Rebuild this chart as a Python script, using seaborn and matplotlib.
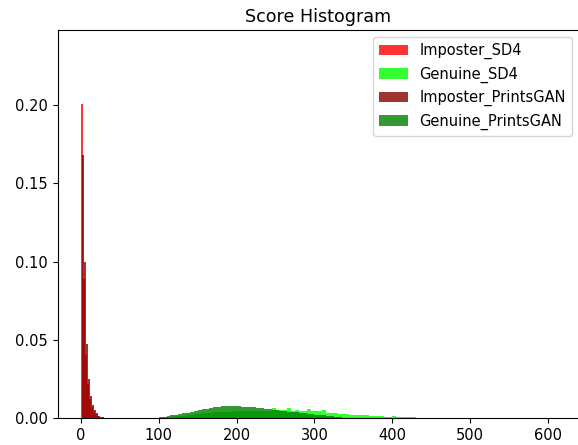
import numpy as np
import pandas as pd
import matplotlib
matplotlib.use("Agg")
import matplotlib.pyplot as plt
import seaborn as sns

# ---- data (density per bin) ----
imp_sd4_start, imp_sd4_width = 0.0, 2.5
imp_sd4 = [0.201, 0.089, 0.040, 0.022, 0.012, 0.007, 0.004, 0.0023, 0.0012, 0.0006, 0.0003]

imp_gan_start, imp_gan_width = 1.5, 2.5
imp_gan = [0.168, 0.100, 0.047, 0.025, 0.014, 0.008, 0.005, 0.003, 0.0015, 0.0008, 0.0004]

gen_sd4_start, gen_sd4_width = 60.0, 5.0
gen_sd4 = [0.0002, 0.0003, 0.0003, 0.0002, 0.0001, 0.0001, 0.0002, 0.0002, 0.0003, 0.0004,
           0.0006, 0.0008, 0.0010, 0.0012, 0.0015, 0.0018, 0.0022, 0.0025, 0.0028, 0.0030,
           0.0032, 0.0034, 0.0036, 0.0038, 0.0039, 0.0040, 0.0041, 0.0042, 0.0043, 0.0043,
           0.0044, 0.0044, 0.0045, 0.0045, 0.0046, 0.0045, 0.0046, 0.0066, 0.0051, 0.0052,
           0.0050, 0.0062, 0.0047, 0.0048, 0.0046, 0.0047, 0.0055, 0.0046, 0.0045, 0.0044,
           0.0050, 0.0033, 0.0031, 0.0030, 0.0028, 0.0025, 0.0024, 0.0020, 0.0019, 0.0019,
           0.0018, 0.0019, 0.0012, 0.0011, 0.0011, 0.0010, 0.0007, 0.0006, 0.0015, 0.0006,
           0.0006, 0.0005, 0.0005, 0.0004, 0.0003]

gen_gan_start, gen_gan_width = 85.0, 5.0
gen_gan = [0.0002, 0.0003, 0.0003, 0.0005, 0.0009, 0.0013, 0.0016, 0.0020, 0.0024, 0.0029,
           0.0034, 0.0040, 0.0045, 0.0051, 0.0055, 0.0060, 0.0064, 0.0068, 0.0071, 0.0074,
           0.0079, 0.0076, 0.0077, 0.0074, 0.0072, 0.0070, 0.0068, 0.0069, 0.0064, 0.0062,
           0.0058, 0.0055, 0.0052, 0.0049, 0.0046, 0.0042, 0.0040, 0.0037, 0.0036, 0.0034,
           0.0031, 0.0028, 0.0024, 0.0021, 0.0019, 0.0017, 0.0015, 0.0012, 0.0009, 0.0006,
           0.0003]

series = [
    ("Imposter_SD4", imp_sd4_start, imp_sd4_width, imp_sd4, "red"),
    ("Genuine_SD4", gen_sd4_start, gen_sd4_width, gen_sd4, "lime"),
    ("Imposter_PrintsGAN", imp_gan_start, imp_gan_width, imp_gan, "darkred"),
    ("Genuine_PrintsGAN", gen_gan_start, gen_gan_width, gen_gan, "green"),
]

x_ticks = [0, 100, 200, 300, 400, 500, 600]
y_ticks = [0.00, 0.05, 0.10, 0.15, 0.20]

plt.rcParams["font.size"] = 10.5

fig = plt.figure(figsize=(5.78, 4.45), dpi=100)
ax = fig.add_axes([57.5 / 578, (445 - 418) / 445, (579 - 57.5) / 578, (418 - 30) / 445])

for label, start, width, heights, color in series:
    n = len(heights)
    centers = start + width * (np.arange(n) + 0.5)
    df = pd.DataFrame({"score": centers, "density": np.asarray(heights, dtype=float)})
    sns.histplot(data=df, x="score", weights="density", binwidth=width,
                 binrange=(start, start + n * width), stat="count",
                 color=color, alpha=0.8, linewidth=0, label=label, ax=ax)

ax.set_xlim(-30.2, 640)
ax.set_ylim(0, 0.248)
ax.set_xticks(x_ticks)
ax.set_yticks(y_ticks)
ax.set_yticklabels([f"{v:.2f}" for v in y_ticks])
ax.set_ylabel("")
ax.set_xlabel("")
ax.set_title("Score Histogram", fontsize=12.6)
ax.legend(loc="upper right")

fig.savefig("out.png", dpi=100)
